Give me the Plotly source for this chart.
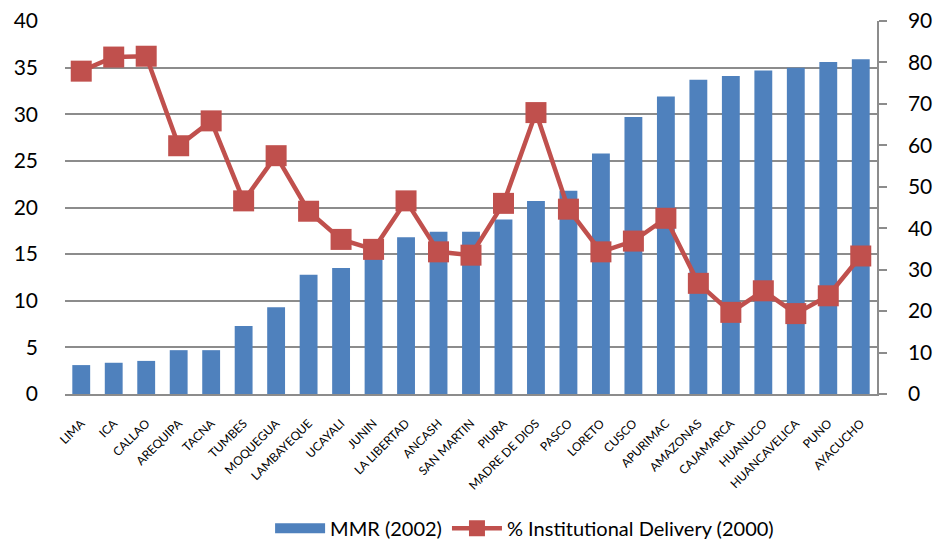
import plotly.graph_objects as go

regions = ["LIMA", "ICA", "CALLAO", "AREQUIPA", "TACNA", "TUMBES", "MOQUEGUA",
           "LAMBAYEQUE", "UCAYALI", "JUNIN", "LA LIBERTAD", "ANCASH", "SAN MARTIN",
           "PIURA", "MADRE DE DIOS", "PASCO", "LORETO", "CUSCO", "APURIMAC",
           "AMAZONAS", "CAJAMARCA", "HUANUCO", "HUANCAVELICA", "PUNO", "AYACUCHO"]
mmr_2002 = [3.1, 3.35, 3.55, 4.7, 4.7, 7.3, 9.3, 12.8, 13.5, 15.2, 16.8, 17.4, 17.4,
            18.7, 20.7, 21.8, 25.8, 29.7, 31.9, 33.7, 34.1, 34.7, 35.0, 35.6, 35.9]
inst_delivery_2000 = [77.9, 81.3, 81.5, 59.9, 65.9, 46.6, 57.5, 44.1, 37.3, 34.9,
                      46.6, 34.3, 33.5, 46.0, 67.9, 44.6, 34.3, 36.9, 42.4, 26.7,
                      19.7, 24.9, 19.4, 23.7, 33.3]
left_ticks = [0, 5, 10, 15, 20, 25, 30, 35, 40]
right_ticks = [0, 10, 20, 30, 40, 50, 60, 70, 80, 90]

FONT = "Lato"
GRID = "#8c8c8c"
BLUE = "#4F81BD"
RED = "#C0504D"

fig = go.Figure()
fig.add_trace(go.Bar(
    x=regions, y=mmr_2002, name="MMR (2002)",
    marker=dict(color=BLUE, line=dict(width=0)),
    yaxis="y", showlegend=False,
))
# legend entry for bars drawn as a wide block like the original
fig.add_trace(go.Scatter(
    x=[None], y=[None], name="MMR (2002)", mode="lines",
    line=dict(color=BLUE, width=13), yaxis="y", hoverinfo="skip",
))
fig.add_trace(go.Scatter(
    x=regions, y=inst_delivery_2000, name="% Institutional Delivery (2000)",
    mode="lines+markers",
    line=dict(color=RED, width=4.5),
    marker=dict(symbol="square", size=21, color=RED),
    yaxis="y2",
))

fig.update_layout(
    width=933, height=544,
    margin=dict(l=65, r=56, t=21, b=150, autoexpand=False),
    paper_bgcolor="white", plot_bgcolor="white",
    font=dict(family=FONT, color="#000000"),
    bargap=0.45,
    showlegend=True,
    legend=dict(orientation="h", x=0.566, xanchor="center", y=-0.36, yanchor="middle",
                font=dict(size=20, family=FONT), traceorder="normal",
                itemwidth=50),
    xaxis=dict(
        range=[-0.5, len(regions) - 0.5],
        tickangle=-45, tickfont=dict(size=12, family=FONT),
        showline=True, linecolor=GRID, linewidth=1.5,
        showgrid=False, ticks="", ticklabelstandoff=16, automargin=False,
    ),
    yaxis=dict(
        range=[0, 40], tickvals=left_ticks, ticktext=[str(v) for v in left_ticks],
        tickfont=dict(size=21, family=FONT),
        showgrid=True, gridcolor=GRID, gridwidth=1.5,
        showline=False, zeroline=False, ticks="", ticklabelstandoff=26,
        automargin=False,
    ),
    yaxis2=dict(
        range=[0, 90], tickvals=right_ticks, ticktext=[str(v) for v in right_ticks],
        overlaying="y", side="right",
        tickfont=dict(size=21, family=FONT),
        showgrid=False, zeroline=False,
        showline=True, linecolor=GRID, linewidth=1.5,
        ticks="outside", ticklen=8, tickcolor=GRID, tickwidth=1.5,
        ticklabelstandoff=17, automargin=False,
    ),
)

fig.write_html("out.html", config={"displayModeBar": False},
               post_script="document.body.style.margin='0';")
